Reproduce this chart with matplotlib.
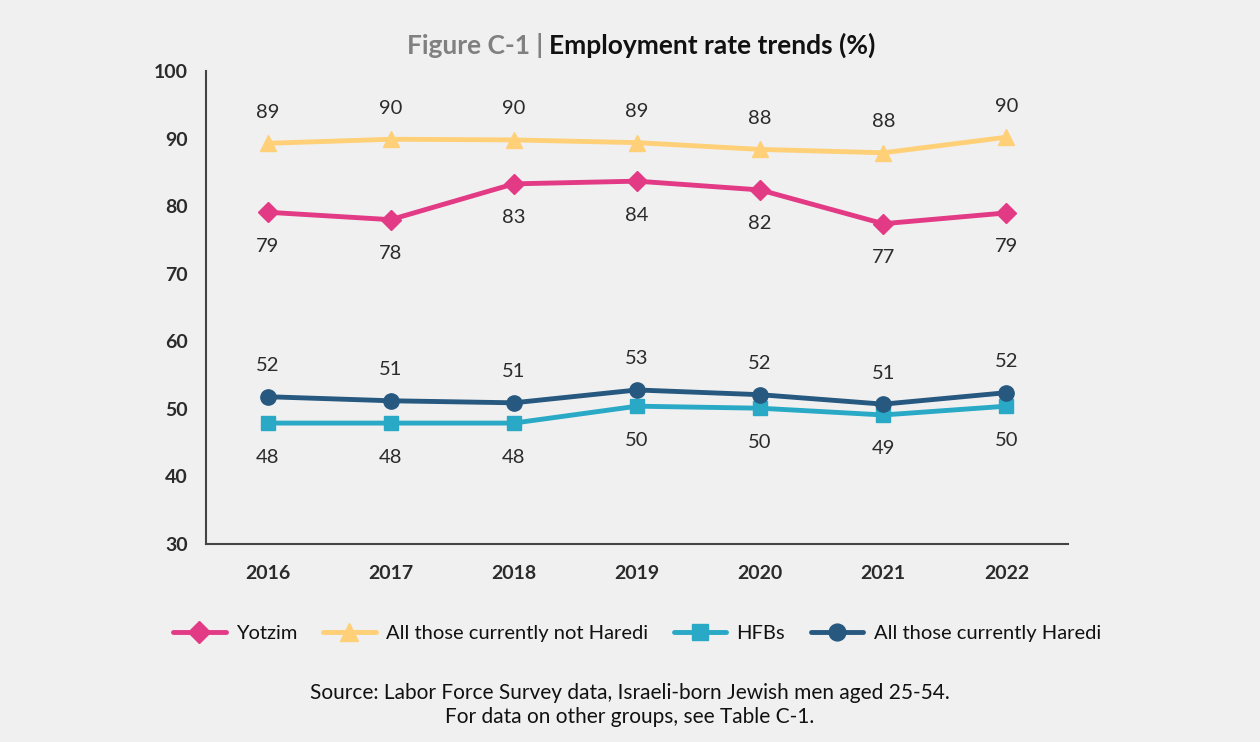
import matplotlib
matplotlib.use("Agg")
import matplotlib.pyplot as plt

plt.rcParams["font.family"] = ["Lato", "DejaVu Sans"]

YEARS = ["2016", "2017", "2018", "2019", "2020", "2021", "2022"]

yotzim = [79.1, 78.0, 83.3, 83.7, 82.4, 77.4, 79.0]
not_haredi = [89.3, 89.9, 89.8, 89.4, 88.4, 87.9, 90.2]
hfbs = [47.9, 47.9, 47.9, 50.4, 50.1, 49.1, 50.4]
haredi = [51.8, 51.2, 50.9, 52.8, 52.1, 50.7, 52.4]

BG = "#f0f0f0"
TEXT = "#2b2b2b"

fig = plt.figure(figsize=(12.6, 7.42), dpi=100, facecolor=BG)
ax = fig.add_axes([0.1635, 0.2668, 0.6841, 0.6375], facecolor=BG)

x = list(range(len(YEARS)))
series = [
    ("Yotzim", yotzim, "#e23a85", "D", 10, -34),
    ("All those currently not Haredi", not_haredi, "#ffd077", "^", 12, 31),
    ("HFBs", hfbs, "#29a9c6", "s", 10, -34),
    ("All those currently Haredi", haredi, "#27587f", "o", 11, 31),
]

for name, vals, color, marker, ms, off in series:
    ax.plot(x, vals, color=color, lw=3.5, marker=marker, markersize=ms,
            label=name, solid_capstyle="round")
    for xi, v in zip(x, vals):
        ax.annotate(f"{round(v):.0f}", (xi, v), xytext=(0, off),
                    textcoords="offset pixels",
                    ha="center", va="center", fontsize=14.5, color=TEXT)

ax.set_xlim(-0.5, len(YEARS) - 0.5)
ax.set_ylim(30, 100)
ax.set_yticks(range(30, 101, 10))
ax.set_xticks(x)
ax.set_xticklabels(YEARS)
ax.tick_params(length=0, labelsize=14, colors=TEXT)
ax.tick_params(axis="x", pad=15)
ax.tick_params(axis="y", pad=13)
for lbl in ax.get_xticklabels() + ax.get_yticklabels():
    lbl.set_fontweight("bold")
for side in ("top", "right"):
    ax.spines[side].set_visible(False)
for side in ("left", "bottom"):
    ax.spines[side].set_color("#444444")
    ax.spines[side].set_linewidth(1.5)

# title in two colours
t1 = fig.text(0.323, 0.927, "Figure C-1 | ", fontsize=19, fontweight="bold",
              color="#808080", ha="left", va="baseline")
t2 = fig.text(0, 0.927, "Employment rate trends (%)", fontsize=19,
              fontweight="bold", color="#111111", ha="left", va="baseline")
fig.canvas.draw()
bb = t1.get_window_extent()
t2.set_x(bb.x1 / fig.bbox.width)

ax.legend(loc="center", bbox_to_anchor=(0.5, -0.19), ncol=4, frameon=False,
          fontsize=14.5, handlelength=2.6, columnspacing=1.3, handletextpad=0.5,
          markerscale=1.1, labelcolor="#111111")

fig.text(0.5, 0.05, "Source: Labor Force Survey data, Israeli-born Jewish men aged 25-54.\n"
         "For data on other groups, see Table C-1.", ha="center", va="center",
         fontsize=15, color="#111111", linespacing=1.25)

fig.savefig("out.png", dpi=100, facecolor=BG)
